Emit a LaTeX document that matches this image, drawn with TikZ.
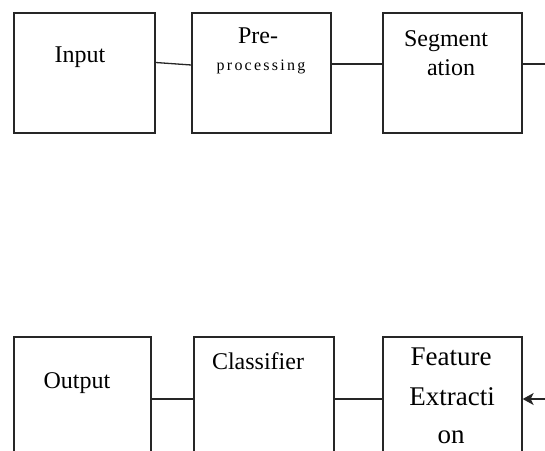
\documentclass[tikz,border=0pt]{standalone}
\usepackage{fontspec}
\setmainfont{Liberation Serif}
\newfontfamily\spaced[LetterSpace=14]{Liberation Serif}
\usetikzlibrary{arrows.meta}

\begin{document}
\begin{tikzpicture}[x=1pt, y=-1pt,
    blk/.style={draw=black!85, line width=1.3pt, minimum width=139pt, minimum height=120pt, inner sep=0pt},
    lowblk/.style={blk, minimum height=124pt},
    txt/.style={anchor=base, inner sep=0pt, font=\fontsize{24}{28}\selectfont},
    conn/.style={draw=black!85, line width=1.3pt}]
    \useasboundingbox (0,0) rectangle (545,450);
    \clip (0,0) rectangle (545,450);

    % Nodes
    \node[blk, minimum width=141pt] (inp) at (84.5,73) {};
    \node[blk] (pre) at (261.5,73) {};
    \node[blk] (seg) at (452.5,73) {};
    \node[lowblk, minimum width=137pt] (out) at (82.5,399) {};
    \node[lowblk, minimum width=140pt] (cls) at (264,399) {};
    \node[lowblk] (fea) at (452.5,399) {};

    % Labels
    \node[txt] (inptxt) at (80,62) {Input};
    \node[txt] (pretxt) at (258,43) {Pre-};
    \node[txt, font=\spaced\fontsize{16}{20}\selectfont] (proctxt) at (261,70) {processing};
    \node[txt] (segtxt) at (446,46) {Segment};
    \node[txt] (atxt) at (451,75) {ation};
    \node[txt] (outtxt) at (77,388) {Output};
    \node[txt] (clstxt) at (258,369) {Classifier};
    \node[txt, font=\fontsize{27}{30}\selectfont] (featxt) at (451,365) {Feature};
    \node[txt, font=\fontsize{27}{30}\selectfont] (extxt) at (452,405) {Extracti};
    \node[txt, font=\fontsize{27}{30}\selectfont] (ontxt) at (451,443) {on};

    % Edge ends
    \coordinate (segout) at (550,64);
    \coordinate (feain) at (550,399);

    % Edges
    \draw[conn] ([yshift=10.5pt]inp.east) -- ([yshift=8pt]pre.west);
    \draw[conn] ([yshift=9pt]pre.east) -- ([yshift=9pt]seg.west);
    \draw[conn] ([yshift=9pt]seg.east) -- (segout);
    \draw[conn] (out.east) -- (cls.west);
    \draw[conn] (cls.east) -- (fea.west);
    \draw[conn, -{Stealth[length=11pt, width=12pt, inset=3pt]}] (feain) -- (fea.east);
\end{tikzpicture}
\end{document}
